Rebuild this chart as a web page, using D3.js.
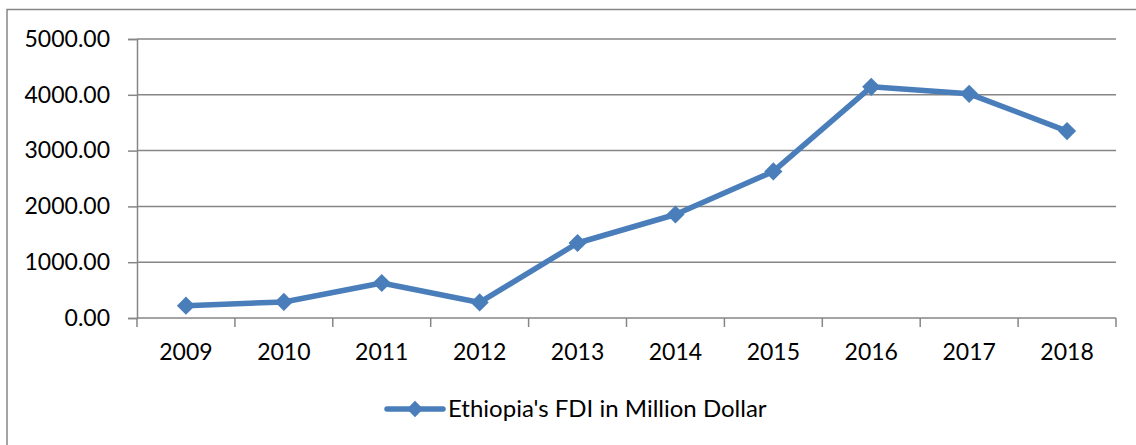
<!DOCTYPE html>
<html>
<head>
<meta charset="utf-8">
<script src="https://cdn.jsdelivr.net/npm/d3@7/dist/d3.min.js"></script>
<style>
  html, body { margin: 0; padding: 0; background: #fff; }
  svg { display: block; }
  text { font-family: Lato, "Open Sans", sans-serif; fill: #000; }
</style>
</head>
<body>
<svg id="chart" width="1136" height="445"></svg>
<script>
// Ethiopia's foreign direct investment inflows, million US dollars
const years = ["2009", "2010", "2011", "2012", "2013", "2014", "2015", "2016", "2017", "2018"];
const fdi = [221, 288, 627, 279, 1344, 1855, 2627, 4143, 4017, 3350];
const yTicks = [0, 1000, 2000, 3000, 4000, 5000];
const seriesName = "Ethiopia's FDI in Million Dollar";

const W = 1136, H = 445;
const margin = { left: 137, top: 39 };
const plotR = 1116;
const plotB = 318;

const svg = d3.select("#chart");
const blue = "#4a7ebb";
const grey = "#868686";

// chart frame (top and left edges fall inside the view)
svg.append("path")
  .attr("d", `M7,${H + 5} V9.5 H${W + 5}`)
  .attr("fill", "none")
  .attr("stroke", grey)
  .attr("stroke-width", 1.5);

const x = d3.scaleBand().domain(years).range([margin.left, plotR]).paddingInner(0).paddingOuter(0);
const y = d3.scaleLinear().domain([0, 5000]).range([plotB, margin.top]);

// horizontal gridlines
svg.append("g").selectAll("line")
  .data(yTicks.filter(d => d > 0))
  .join("line")
  .attr("x1", margin.left).attr("x2", plotR)
  .attr("y1", d => y(d)).attr("y2", d => y(d))
  .attr("stroke", grey).attr("stroke-width", 1.5);

// y axis
const yAxis = svg.append("g")
  .attr("transform", `translate(${margin.left},0)`)
  .call(d3.axisLeft(y).tickValues(yTicks).tickFormat(d3.format(".2f")).tickSize(9).tickPadding(18));
yAxis.select(".domain").attr("stroke", grey).attr("stroke-width", 1.5);
yAxis.selectAll(".tick line").attr("stroke", grey).attr("stroke-width", 1.5);
yAxis.selectAll(".tick text").attr("font-size", 23).attr("font-family", "Lato, sans-serif").attr("fill", "#000");

// x axis with tick marks between categories
const xAxisG = svg.append("g").attr("transform", `translate(0,${plotB})`);
xAxisG.append("line")
  .attr("x1", margin.left).attr("x2", plotR)
  .attr("stroke", grey).attr("stroke-width", 1.5);
const boundaries = years.map(d => x(d)).concat([x(years[years.length - 1]) + x.bandwidth()]);
xAxisG.selectAll("line.tk")
  .data(boundaries)
  .join("line").attr("class", "tk")
  .attr("x1", d => d).attr("x2", d => d)
  .attr("y1", 0).attr("y2", 9)
  .attr("stroke", grey).attr("stroke-width", 1.5);
xAxisG.selectAll("text")
  .data(years)
  .join("text")
  .attr("x", d => x(d) + x.bandwidth() / 2)
  .attr("y", 42)
  .attr("text-anchor", "middle")
  .attr("font-size", 23)
  .text(d => d);

// series line
const cx = (d, i) => x(years[i]) + x.bandwidth() / 2;
svg.append("path")
  .datum(fdi)
  .attr("fill", "none")
  .attr("stroke", blue)
  .attr("stroke-width", 5.5)
  .attr("stroke-linejoin", "round")
  .attr("d", d3.line().x(cx).y(d => y(d)));

// diamond markers
const diamond = d3.symbol().type(d3.symbolDiamond2).size(210);
svg.append("g").selectAll("path")
  .data(fdi)
  .join("path")
  .attr("transform", (d, i) => `translate(${cx(d, i)},${y(d)})`)
  .attr("d", diamond)
  .attr("fill", blue);

// legend
const lg = svg.append("g").attr("transform", "translate(387,409)");
lg.append("line").attr("x1", 0).attr("x2", 56).attr("y1", 0).attr("y2", 0)
  .attr("stroke", blue).attr("stroke-width", 5.5).attr("stroke-linecap", "round");
lg.append("path").attr("transform", "translate(28,0)")
  .attr("d", d3.symbol().type(d3.symbolDiamond2).size(170)).attr("fill", blue);
lg.append("text").attr("x", 61).attr("y", 8).attr("font-size", 24).text(seriesName);
</script>
</body>
</html>
